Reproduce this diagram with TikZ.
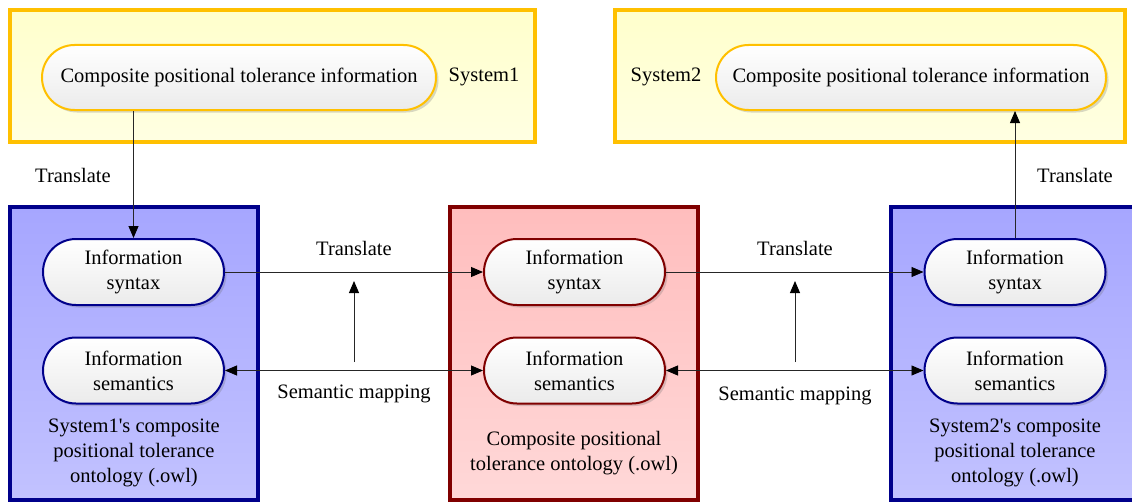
\documentclass[tikz,border=0pt]{standalone}
\usepackage{fontspec}
\setmainfont{Liberation Serif}
\usetikzlibrary{shapes.misc,shadows,arrows.meta}
\definecolor{ybord}{HTML}{FFC000}
\definecolor{ytop}{HTML}{FFFFCC}
\definecolor{ybot}{HTML}{FFFFE2}
\definecolor{nbord}{HTML}{00008B}
\definecolor{btop}{HTML}{A6A6FF}
\definecolor{bbot}{HTML}{C2C2FF}
\definecolor{rbord}{HTML}{800000}
\definecolor{rtop}{HTML}{FFBDBD}
\definecolor{rbot}{HTML}{FFD8D8}
\definecolor{pbot}{HTML}{EBEBEB}
\tikzset{
  x=1pt,y=-1pt,
  every node/.style={font=\fontsize{20.5}{25}\selectfont, text=black},
  pill/.style={rounded rectangle, line width=2pt, top color=white, bottom color=pbot,
     drop shadow={shadow xshift=2.5pt, shadow yshift=-2.5pt, opacity=0.25, fill=black!60},
     align=center, inner sep=0pt},
  smallpill/.style={pill, minimum width=181pt, minimum height=66pt},
  frame/.style={line width=4pt},
  conn/.style={line width=0.9pt, draw=black!85},
  tip/.style={-{Triangle[length=12pt,width=10pt,color=black]}},
  dtip/.style={{Triangle[length=12pt,width=10pt,color=black]}-{Triangle[length=12pt,width=10pt,color=black]}},
  lbl/.style={align=center, inner sep=0pt}
}
\begin{document}
\begin{tikzpicture}
\clip (0,0) rectangle (1132,503);
\fill[white] (0,0) rectangle (1132,503);
% outer frames
\shade[top color=ytop,bottom color=ybot] (10,10) rectangle (535,142);
\draw[frame,ybord] (10,10) rectangle (535,142);
\shade[top color=ytop,bottom color=ybot] (615,10) rectangle (1125,142);
\draw[frame,ybord] (615,10) rectangle (1125,142);
\shade[top color=btop,bottom color=bbot] (10,207) rectangle (258,500);
\draw[frame,nbord] (10,207) rectangle (258,500);
\shade[top color=rtop,bottom color=rbot] (450,207) rectangle (698,500);
\draw[frame,rbord] (450,207) rectangle (698,500);
\shade[top color=btop,bottom color=bbot] (891,207) rectangle (1145,500);
\draw[frame,nbord] (891,207) rectangle (1145,500);
% top pills
\node[pill, draw=ybord, minimum width=394pt, minimum height=65pt] (c1) at (239,77.5) {Composite positional tolerance information};
\node[lbl] (s1) at (484,77) {System1};
\node[pill, draw=ybord, minimum width=390pt, minimum height=65pt] (c2) at (911,77.5) {Composite positional tolerance information};
\node[lbl] (s2) at (666,77) {System2};
% left
\node[smallpill, draw=nbord] (ls) at (133.5,272) {Information\\syntax};
\node[smallpill, draw=nbord] (lm) at (133.5,370.5) {Information\\semantics};
\node[lbl] (lt) at (134,453) {System1\textquotesingle s composite\\positional tolerance\\ontology (.owl)};
% center
\node[smallpill, draw=rbord] (cs) at (574.5,272) {Information\\syntax};
\node[smallpill, draw=rbord] (cm) at (574.5,370.5) {Information\\semantics};
\node[lbl] (ct) at (574,453) {Composite positional\\tolerance ontology (.owl)};
% right
\node[smallpill, draw=nbord] (rs) at (1015,272) {Information\\syntax};
\node[smallpill, draw=nbord] (rm) at (1015,370.5) {Information\\semantics};
\node[lbl] (rt) at (1015,453) {System2\textquotesingle s composite\\positional tolerance\\ontology (.owl)};
% connectors
\draw[conn,tip] (c1.south -| ls.north) -- (ls.north);
\node[lbl] (t1) at (73,175) {Translate};
\draw[conn,tip] (ls.east) -- (cs.west);
\node[lbl] (t2) at (354,248) {Translate};
\draw[conn,dtip] (lm.east) -- (cm.west);
\node[lbl] (m1) at (354,394) {Semantic mapping};
\coordinate (v1a) at (354,362);
\coordinate (v1b) at (354,281);
\draw[conn,tip] (v1a) -- (v1b);
\draw[conn,tip] (cs.east) -- (rs.west);
\node[lbl] (t3) at (795,248) {Translate};
\draw[conn,dtip] (cm.east) -- (rm.west);
\node[lbl] (m2) at (795,396) {Semantic mapping};
\coordinate (v2a) at (795,362);
\coordinate (v2b) at (795,281);
\draw[conn,tip] (v2a) -- (v2b);
\draw[conn,tip] (rs.north) -- (rs.north |- c2.south);
\node[lbl] (t4) at (1075,175) {Translate};
\end{tikzpicture}
\end{document}
